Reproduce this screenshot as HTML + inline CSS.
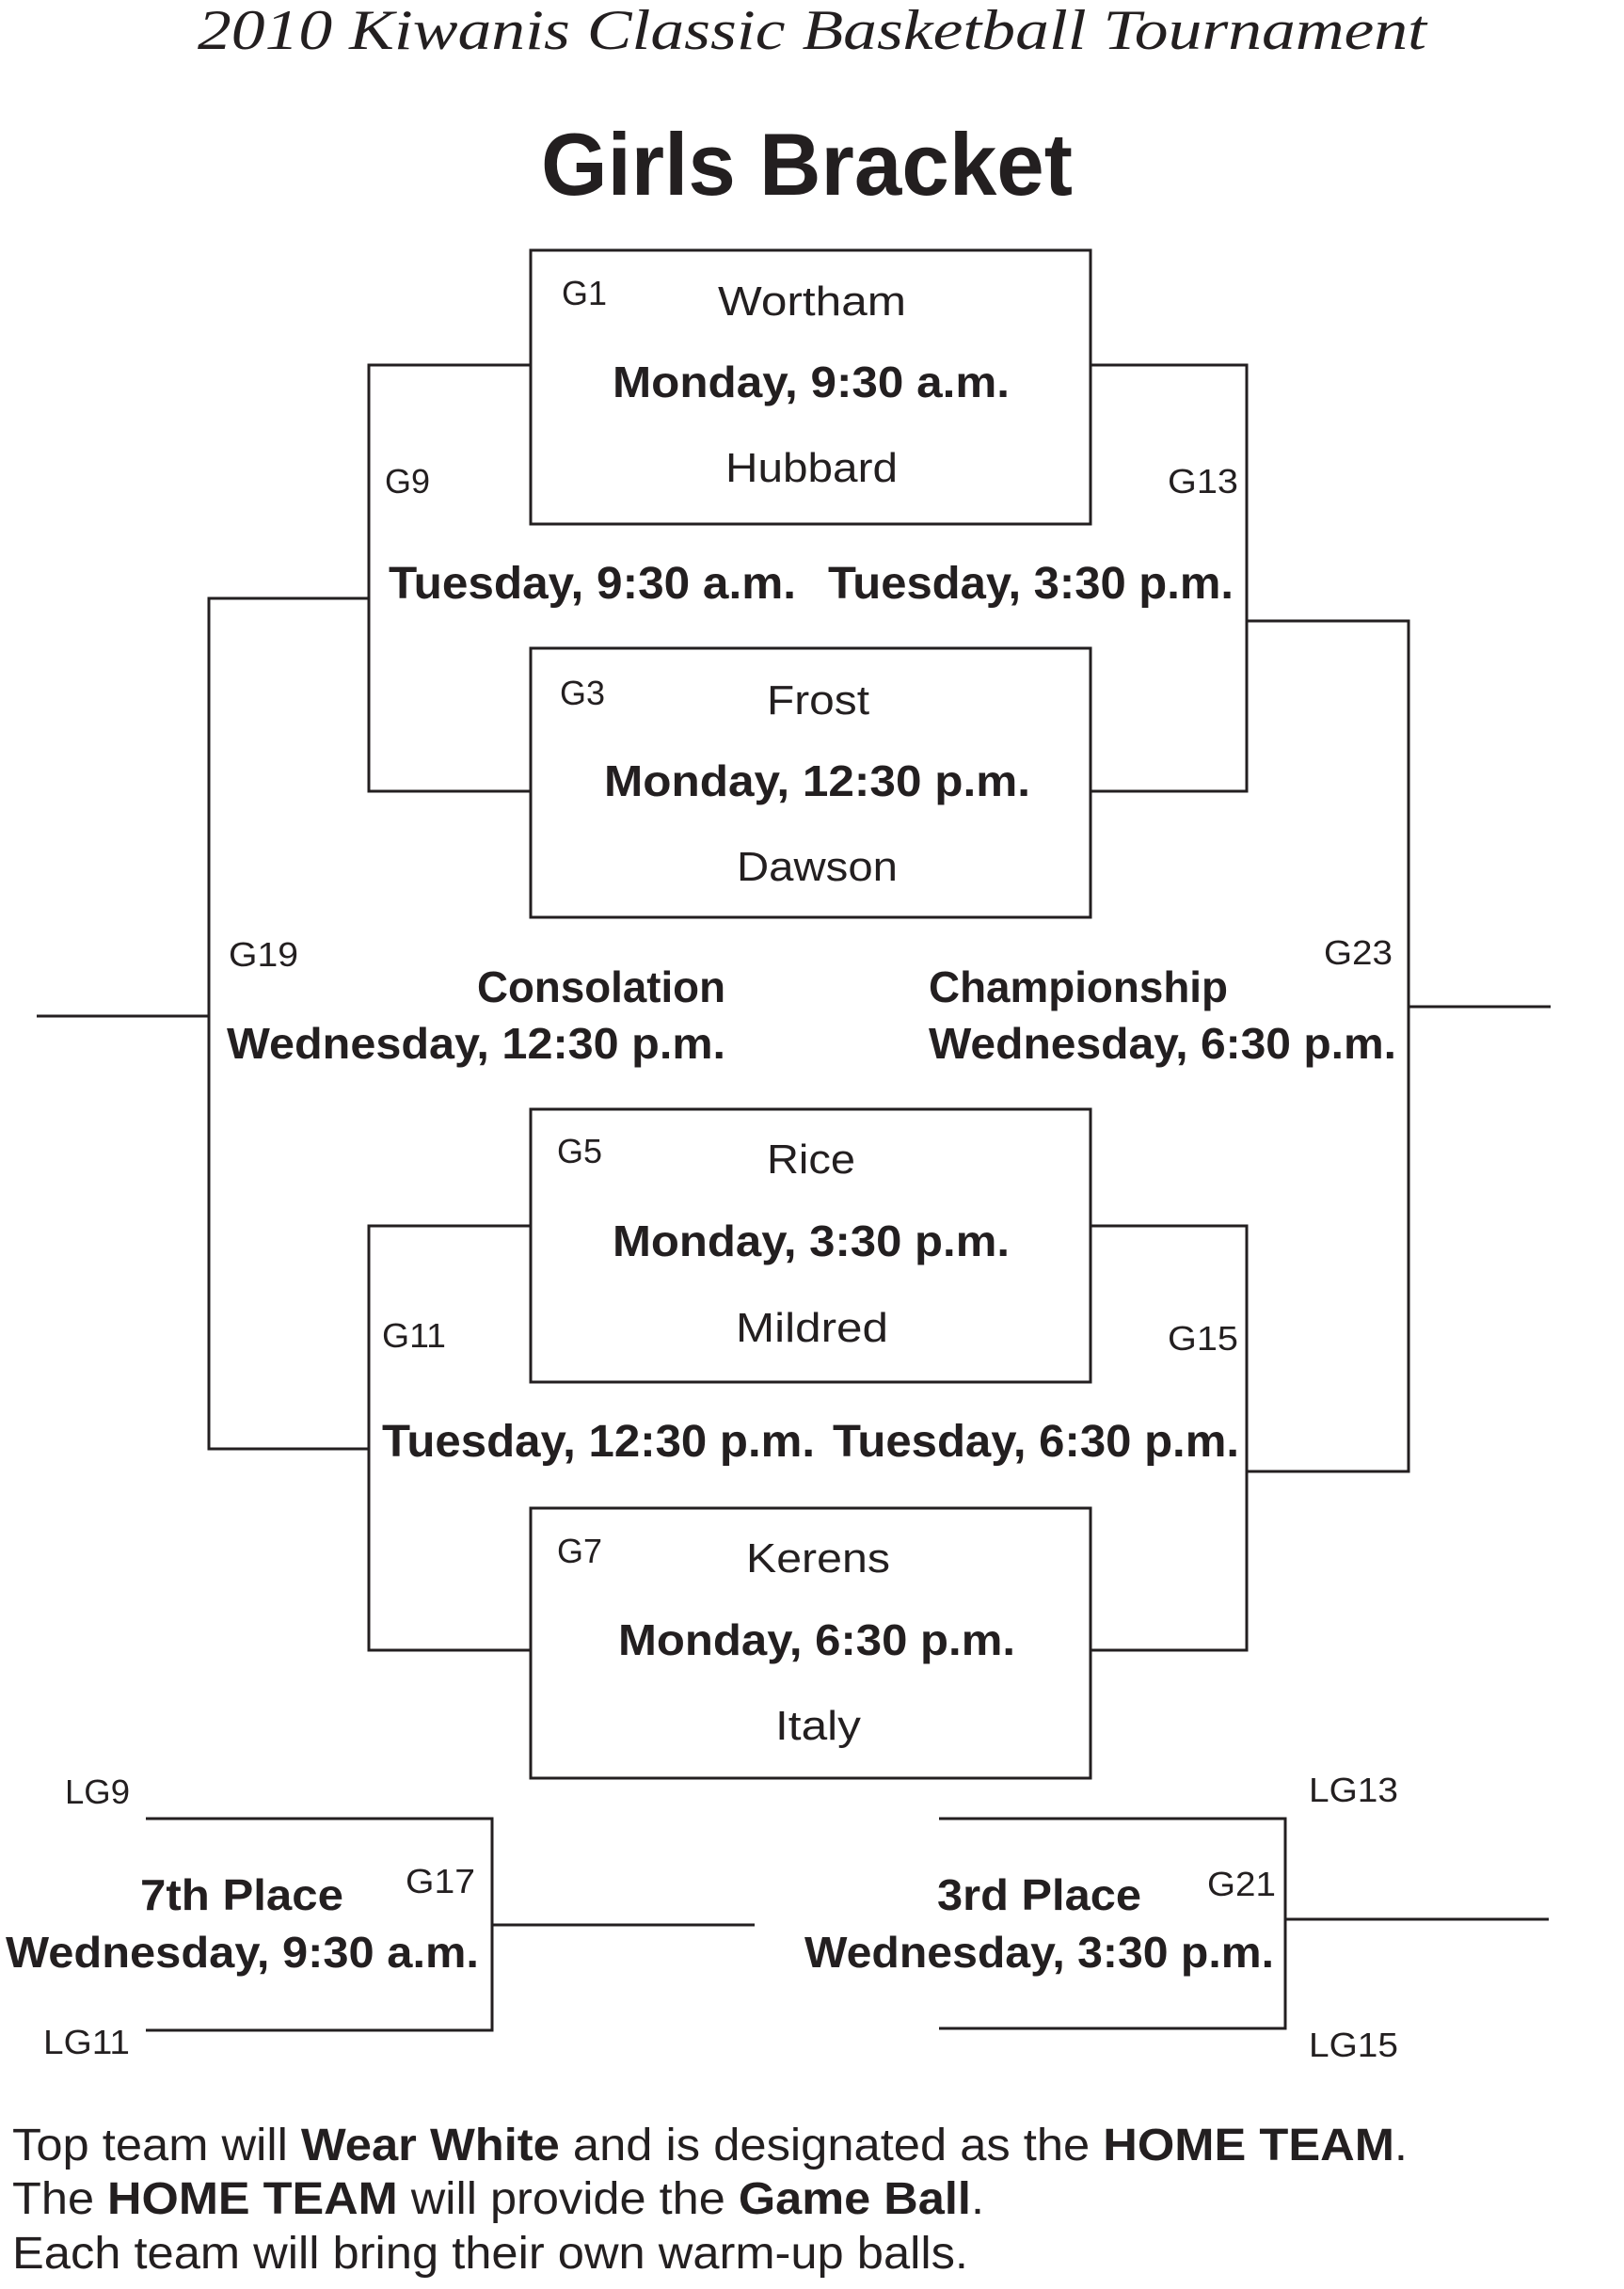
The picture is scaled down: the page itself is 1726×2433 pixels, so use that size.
<!DOCTYPE html>
<html><head><meta charset="utf-8"><style>
html,body{margin:0;padding:0;background:#fff}
svg{display:block}
text{font-family:"Liberation Sans",sans-serif;fill:#231f20}
.b{font-weight:bold}
.g{font-size:36px}
</style></head><body>
<svg width="1726" height="2433" viewBox="0 0 1726 2433" xmlns="http://www.w3.org/2000/svg">
<g stroke="#231f20" stroke-width="3" fill="none">
<rect x="564" y="266" width="595" height="291"/>
<rect x="564" y="689" width="595" height="286"/>
<rect x="564" y="1179" width="595" height="290"/>
<rect x="564" y="1603" width="595" height="287"/>
<polyline points="564,388 392,388 392,841 564,841"/>
<polyline points="1159,388 1325,388 1325,841 1159,841"/>
<polyline points="564,1303 392,1303 392,1754 564,1754"/>
<polyline points="1159,1303 1325,1303 1325,1754 1159,1754"/>
<polyline points="392,636 222,636 222,1540 392,1540"/>
<line x1="39" y1="1080" x2="222" y2="1080"/>
<polyline points="1325,660 1497,660 1497,1564 1325,1564"/>
<line x1="1497" y1="1070" x2="1648" y2="1070"/>
<polyline points="155,1933 523,1933 523,2158 155,2158"/>
<line x1="523" y1="2046" x2="802" y2="2046"/>
<polyline points="998,1933 1366,1933 1366,2156 998,2156"/>
<line x1="1366" y1="2040" x2="1646" y2="2040"/>
</g>
<text x="210" y="52" font-size="60" style="font-family:'Liberation Serif',serif;font-style:italic" textLength="1306" lengthAdjust="spacingAndGlyphs">2010 Kiwanis Classic Basketball Tournament</text>
<text x="575" y="207" font-size="94" class="b" textLength="565" lengthAdjust="spacingAndGlyphs">Girls Bracket</text>

<text class="g" x="597" y="324">G1</text>
<text x="763" y="335" font-size="44" textLength="200" lengthAdjust="spacingAndGlyphs">Wortham</text>
<text x="651" y="422" font-size="46" class="b" textLength="422" lengthAdjust="spacingAndGlyphs">Monday, 9:30 a.m.</text>
<text x="771" y="512" font-size="44" textLength="183" lengthAdjust="spacingAndGlyphs">Hubbard</text>
<text class="g" x="409" y="524">G9</text>
<text class="g" x="1241" y="524" textLength="75" lengthAdjust="spacingAndGlyphs">G13</text>
<text x="413" y="636" font-size="48" class="b" textLength="433" lengthAdjust="spacingAndGlyphs">Tuesday, 9:30 a.m.</text>
<text x="880" y="636" font-size="48" class="b" textLength="431" lengthAdjust="spacingAndGlyphs">Tuesday, 3:30 p.m.</text>

<text class="g" x="595" y="749">G3</text>
<text x="815" y="759" font-size="44" textLength="109" lengthAdjust="spacingAndGlyphs">Frost</text>
<text x="642" y="846" font-size="46" class="b" textLength="453" lengthAdjust="spacingAndGlyphs">Monday, 12:30 p.m.</text>
<text x="783" y="936" font-size="44" textLength="171" lengthAdjust="spacingAndGlyphs">Dawson</text>

<text class="g" x="243" y="1027" textLength="74" lengthAdjust="spacingAndGlyphs">G19</text>
<text class="g" x="1407" y="1025" textLength="73" lengthAdjust="spacingAndGlyphs">G23</text>
<text x="507" y="1065" font-size="46" class="b" textLength="264" lengthAdjust="spacingAndGlyphs">Consolation</text>
<text x="241" y="1125" font-size="46" class="b" textLength="530" lengthAdjust="spacingAndGlyphs">Wednesday, 12:30 p.m.</text>
<text x="987" y="1065" font-size="46" class="b" textLength="318" lengthAdjust="spacingAndGlyphs">Championship</text>
<text x="987" y="1125" font-size="46" class="b" textLength="497" lengthAdjust="spacingAndGlyphs">Wednesday, 6:30 p.m.</text>

<text class="g" x="592" y="1236">G5</text>
<text x="815" y="1247" font-size="44" textLength="94" lengthAdjust="spacingAndGlyphs">Rice</text>
<text x="651" y="1335" font-size="46" class="b" textLength="422" lengthAdjust="spacingAndGlyphs">Monday, 3:30 p.m.</text>
<text x="782" y="1426" font-size="44" textLength="162" lengthAdjust="spacingAndGlyphs">Mildred</text>
<text class="g" x="406" y="1432" textLength="68" lengthAdjust="spacingAndGlyphs">G11</text>
<text class="g" x="1241" y="1435" textLength="75" lengthAdjust="spacingAndGlyphs">G15</text>
<text x="406" y="1548" font-size="48" class="b" textLength="460" lengthAdjust="spacingAndGlyphs">Tuesday, 12:30 p.m.</text>
<text x="885" y="1548" font-size="48" class="b" textLength="432" lengthAdjust="spacingAndGlyphs">Tuesday, 6:30 p.m.</text>

<text class="g" x="592" y="1661">G7</text>
<text x="793" y="1671" font-size="44" textLength="153" lengthAdjust="spacingAndGlyphs">Kerens</text>
<text x="657" y="1759" font-size="46" class="b" textLength="422" lengthAdjust="spacingAndGlyphs">Monday, 6:30 p.m.</text>
<text x="824" y="1849" font-size="44" textLength="91" lengthAdjust="spacingAndGlyphs">Italy</text>

<text class="g" x="69" y="1917" textLength="69" lengthAdjust="spacingAndGlyphs">LG9</text>
<text class="g" x="46" y="2183" textLength="92" lengthAdjust="spacingAndGlyphs">LG11</text>
<text class="g" x="431" y="2012" textLength="74" lengthAdjust="spacingAndGlyphs">G17</text>
<text x="149" y="2030" font-size="46" class="b" textLength="216" lengthAdjust="spacingAndGlyphs">7th Place</text>
<text x="6" y="2091" font-size="46" class="b" textLength="503" lengthAdjust="spacingAndGlyphs">Wednesday, 9:30 a.m.</text>

<text class="g" x="1391" y="1915" textLength="95" lengthAdjust="spacingAndGlyphs">LG13</text>
<text class="g" x="1391" y="2186" textLength="95" lengthAdjust="spacingAndGlyphs">LG15</text>
<text class="g" x="1283" y="2015" textLength="73" lengthAdjust="spacingAndGlyphs">G21</text>
<text x="996" y="2030" font-size="46" class="b" textLength="217" lengthAdjust="spacingAndGlyphs">3rd Place</text>
<text x="855" y="2091" font-size="46" class="b" textLength="499" lengthAdjust="spacingAndGlyphs">Wednesday, 3:30 p.m.</text>

<text x="13" y="2296" font-size="48" textLength="1483" lengthAdjust="spacingAndGlyphs">Top team will <tspan class="b">Wear White</tspan> and is designated as the <tspan class="b">HOME TEAM</tspan>.</text>
<text x="13" y="2353" font-size="48" textLength="1033" lengthAdjust="spacingAndGlyphs">The <tspan class="b">HOME TEAM</tspan> will provide the <tspan class="b">Game Ball</tspan>.</text>
<text x="13" y="2411" font-size="48" textLength="1016" lengthAdjust="spacingAndGlyphs">Each team will bring their own warm-up balls.</text>
</svg>
</body></html>
